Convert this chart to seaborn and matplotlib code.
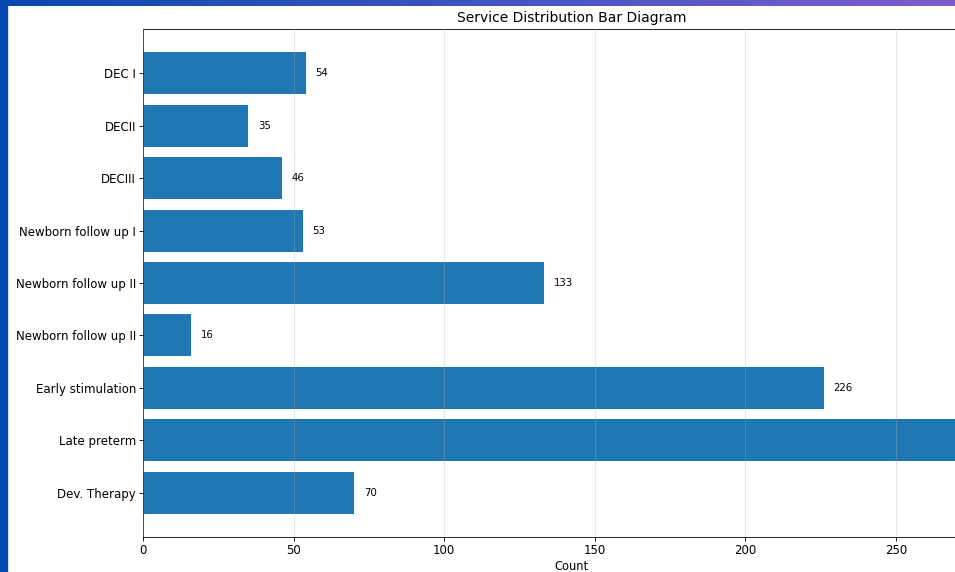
import numpy as np
import pandas as pd
import seaborn as sns
import matplotlib.pyplot as plt
from matplotlib.patches import Rectangle

services = ['DEC I', 'DECII', 'DECIII', 'Newborn follow up I', 'Newborn follow up II',
            'Newborn follow up II', 'Early stimulation', 'Late preterm', 'Dev. Therapy']
counts = [54, 35, 46, 53, 133, 16, 226, 271, 70]

df = pd.DataFrame({'service': services, 'count': counts})
df['slot'] = range(len(df))  # duplicate names, so plot by position

fig = plt.figure(figsize=(9.55, 5.72), dpi=100)
ax = fig.add_axes([143 / 955, 35 / 572, 857 / 955, 508 / 572])

sns.barplot(data=df, x='count', y='slot', orient='h', color='#1f77b4',
            saturation=1, width=0.8, ax=ax)

ax.set_yticks(df['slot'])
ax.set_yticklabels(df['service'])
ax.set_ylim(8.84, -0.84)
ax.set_xlim(0, max(counts) * 1.05)
ax.set_ylabel('')
ax.grid(axis='x', alpha=0.3)
ax.set_axisbelow(False)

for i, v in enumerate(counts):
    ax.text(v + 3.3, i, str(v), va='center', fontsize=7.3)

ax.set_title('Service Distribution Bar Diagram', fontsize=10, pad=5)
ax.set_xlabel('Count', fontsize=8.3, labelpad=2)
ax.tick_params(labelsize=8.5, length=2.6, width=0.6, pad=2.5)
for s in ax.spines.values():
    s.set_linewidth(0.6)

# screenshot frame: blue left edge and gradient strip on top
fig.patches.append(Rectangle((0, 0), 7 / 955, 1, transform=fig.transFigure,
                             color='#0749b1', zorder=10))
top = fig.add_axes([0, 1 - 6 / 572, 1, 6 / 572])
grad = np.linspace(0, 1, 256).reshape(1, -1)
top.imshow(grad, aspect='auto',
           cmap=plt.matplotlib.colors.LinearSegmentedColormap.from_list(
               'frame', ['#0749b1', '#3f55c0', '#7e5ccf']))
top.axis('off')

fig.savefig('out.png', dpi=100)
